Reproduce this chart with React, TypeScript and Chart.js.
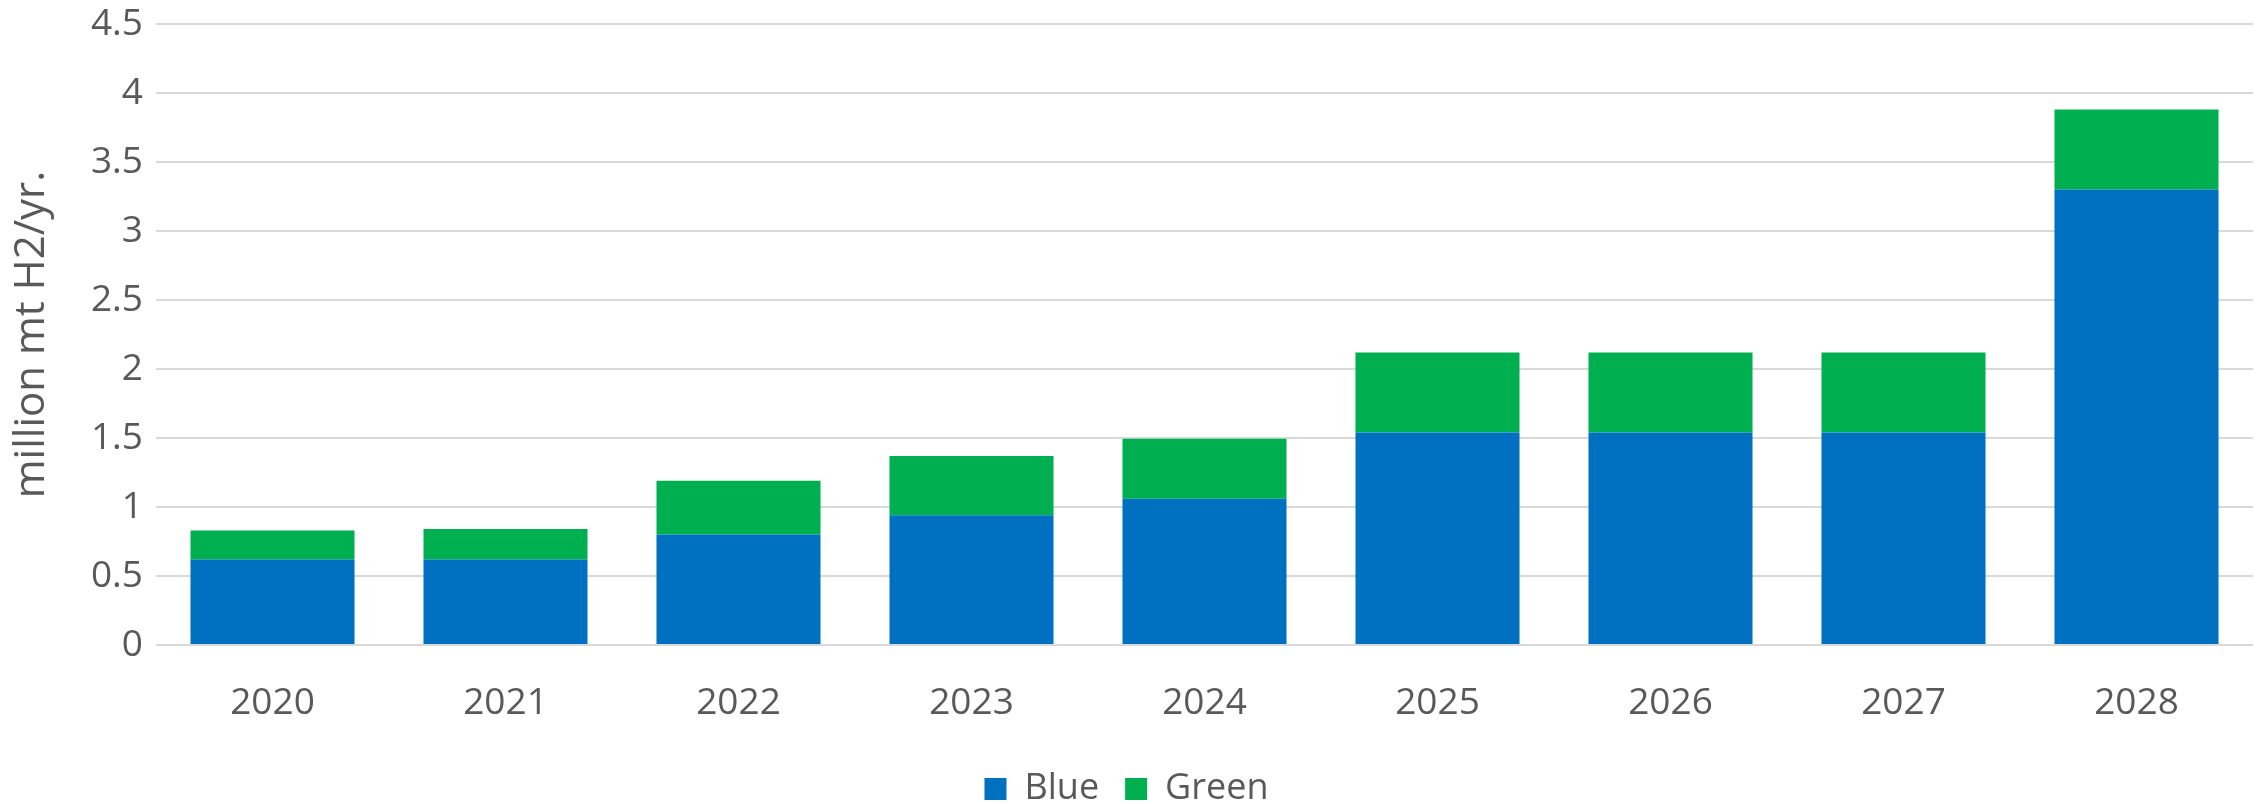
import React, { useEffect, useRef } from "react";
import { Chart, registerables } from "chart.js";

Chart.register(...registerables);

const categories = ["2020", "2021", "2022", "2023", "2024", "2025", "2026", "2027", "2028"];
const blueValues = [0.62, 0.62, 0.8, 0.94, 1.06, 1.54, 1.54, 1.54, 3.3];
const greenValues = [0.21, 0.22, 0.39, 0.43, 0.435, 0.58, 0.58, 0.58, 0.58];
const yMin = 0;
const yMax = 4.5;
const yStep = 0.5;
const yTitle = "million mt H2/yr.";

const TEXT = "#595959";
const FONT = "'Open Sans', 'Noto Sans', sans-serif";

export default function App() {
  const ref = useRef<HTMLCanvasElement | null>(null);

  useEffect(() => {
    document.body.style.margin = "0";
    const canvas = ref.current;
    if (!canvas) return;
    const chart = new Chart(canvas, {
      type: "bar",
      data: {
        labels: categories,
        datasets: [
          {
            label: "Blue",
            data: blueValues,
            backgroundColor: "#0070C0",
            borderWidth: 0,
            barPercentage: 0.704,
            categoryPercentage: 1,
          },
          {
            label: "Green",
            data: greenValues,
            backgroundColor: "#00B050",
            borderWidth: 0,
            barPercentage: 0.704,
            categoryPercentage: 1,
          },
        ],
      },
      options: {
        animation: false,
        responsive: false,
        maintainAspectRatio: false,
        layout: { padding: { top: 3, right: 4, left: 0, bottom: -13 } },
        plugins: {
          legend: {
            position: "bottom",
            labels: {
              color: TEXT,
              font: { family: FONT, size: 36 },
              boxWidth: 22,
              boxHeight: 22,
              padding: 26,
            },
          },
          tooltip: { enabled: false },
        },
        scales: {
          x: {
            stacked: true,
            grid: { display: false },
            border: { display: false },
            ticks: {
              color: TEXT,
              font: { family: FONT, size: 37, lineHeight: 1.2 },
              padding: 28,
            },
            afterFit: (scale: any) => {
              scale.height = 100;
            },
          },
          y: {
            stacked: true,
            min: yMin,
            max: yMax,
            grid: { color: "#D9D9D9", lineWidth: 2, drawTicks: false },
            border: { display: false },
            ticks: {
              stepSize: yStep,
              color: TEXT,
              font: { family: FONT, size: 37, lineHeight: 1.2 },
              padding: 13,
              callback: (v: any) => String(Math.round(Number(v) * 10) / 10),
            },
            title: {
              display: true,
              text: yTitle,
              color: TEXT,
              font: { family: FONT, size: 42, lineHeight: 1.2 },
              padding: { top: 7, bottom: 0 },
            },
            afterFit: (scale: any) => {
              scale.width = 156;
              scale.paddingTop = 24;
              scale.paddingBottom = 22;
            },
          },
        },
      },
    });
    return () => chart.destroy();
  }, []);

  return (
    <div style={{ width: 2257, height: 804 }}>
      <canvas ref={ref} width={2257} height={804} style={{ display: "block", width: 2257, height: 804 }} />
    </div>
  );
}
